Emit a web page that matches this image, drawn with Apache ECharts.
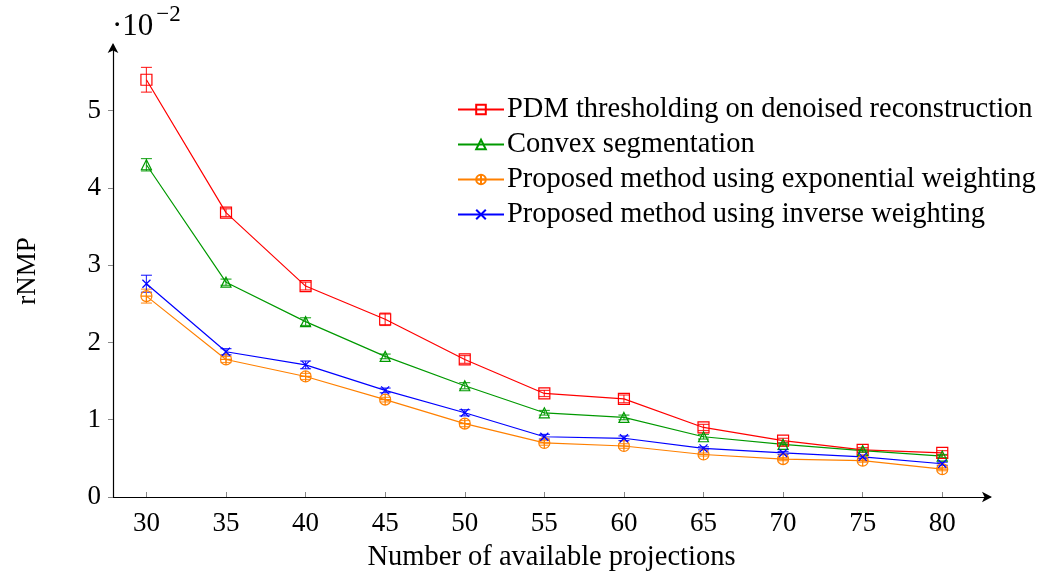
<!DOCTYPE html>
<html>
<head>
<meta charset="utf-8">
<script src="https://cdn.jsdelivr.net/npm/echarts@6/dist/echarts.min.js"></script>
<style>
  html, body { margin: 0; padding: 0; background: #fff; }
  #chart { width: 1054px; height: 577px; }
</style>
</head>
<body>
<div id="chart"></div>
<script>
// projections (x values)
var projections = [30, 35, 40, 45, 50, 55, 60, 65, 70, 75, 80];
var xTicks = [30, 35, 40, 45, 50, 55, 60, 65, 70, 75, 80];
var yTicks = [0, 1, 2, 3, 4, 5];

// rNMP values (x 10^-2)
var pdmVals    = [5.40, 3.68, 2.73, 2.30, 1.78, 1.34, 1.27, 0.90, 0.73, 0.61, 0.57];
var convexVals = [4.30, 2.78, 2.27, 1.82, 1.44, 1.09, 1.03, 0.78, 0.68, 0.60, 0.53];
var expVals    = [2.60, 1.78, 1.56, 1.26, 0.95, 0.70, 0.66, 0.55, 0.49, 0.47, 0.36];
var invVals    = [2.76, 1.88, 1.71, 1.38, 1.09, 0.78, 0.76, 0.63, 0.57, 0.52, 0.43];

// error bar half widths
var pdmErr    = [0.16, 0.05, 0.05, 0.08, 0.05, 0.04, 0.05, 0.04, 0.03, 0.03, 0.03];
var convexErr = [0.08, 0.04, 0.05, 0.03, 0.04, 0.03, 0.03, 0.03, 0.02, 0.02, 0.02];
var expErr    = [0.09, 0.04, 0.04, 0.03, 0.04, 0.03, 0.03, 0.02, 0.02, 0.02, 0.02];
var invErr    = [0.11, 0.04, 0.05, 0.03, 0.04, 0.03, 0.03, 0.02, 0.02, 0.02, 0.02];

var names = [
  'PDM thresholding on denoised reconstruction',
  'Convex segmentation',
  'Proposed method using exponential weighting',
  'Proposed method using inverse weighting'
];
var colors = ['#ff0000', '#009900', '#ff8000', '#0000ff'];

var FONT = '"Liberation Serif", "DejaVu Serif", serif';
var oplus = 'path://M0,5A5,5 0 1,1 10,5A5,5 0 1,1 0,5ZM5,0L5,10M0,5L10,5';
var cross = 'path://M0,0L10,10M10,0L0,10';
var symbols = ['rect', 'triangle', oplus, cross];
var sizes = [11, 10, 11, 8];

var vals = [pdmVals, convexVals, expVals, invVals];
var errs = [pdmErr, convexErr, expErr, invErr];

function pairs(v) { return projections.map(function (x, i) { return [x, v[i]]; }); }
function errData(v, e) { return projections.map(function (x, i) { return [x, v[i] - e[i], v[i] + e[i]]; }); }

var series = [];
for (var k = 0; k < 4; k++) {
  series.push({
    name: names[k],
    type: 'line',
    data: pairs(vals[k]),
    symbol: symbols[k],
    symbolSize: sizes[k],
    showAllSymbol: true,
    lineStyle: { color: colors[k], width: 1.2 },
    itemStyle: { color: 'rgba(255,255,255,0)', borderColor: colors[k], borderWidth: 1.2 },
    z: 3
  });
  (function (c) {
    series.push({
      type: 'custom',
      data: errData(vals[k], errs[k]),
      z: 2,
      renderItem: function (params, api) {
        var lo = api.coord([api.value(0), api.value(1)]);
        var hi = api.coord([api.value(0), api.value(2)]);
        var w = 5.5;
        var st = { stroke: c, lineWidth: 1.2, opacity: 0.8 };
        return {
          type: 'group',
          children: [
            { type: 'line', shape: { x1: lo[0], y1: lo[1], x2: hi[0], y2: hi[1] }, style: st },
            { type: 'line', shape: { x1: lo[0] - w, y1: lo[1], x2: lo[0] + w, y2: lo[1] }, style: st },
            { type: 'line', shape: { x1: hi[0] - w, y1: hi[1], x2: hi[0] + w, y2: hi[1] }, style: st }
          ]
        };
      }
    });
  })(colors[k]);
}

var chart = echarts.init(document.getElementById('chart'), null, { renderer: 'canvas' });
chart.setOption({
  animation: false,
  backgroundColor: '#fff',
  grid: { left: 113, right: 64, top: 45, bottom: 80, containLabel: false },
  legend: {
    data: names,
    orient: 'vertical',
    left: 452,
    top: 90,
    itemWidth: 46,
    itemHeight: 12,
    itemGap: 6,
    textStyle: { fontFamily: FONT, fontSize: 28.5, color: '#000', padding: [0, 0, 0, -2] }
  },
  xAxis: {
    type: 'value',
    min: 27.9,
    max: 83,
    name: 'Number of available projections',
    nameLocation: 'middle',
    nameGap: 46,
    nameTextStyle: { fontFamily: FONT, fontSize: 28.5, color: '#000' },
    splitLine: { show: false },
    axisLine: { lineStyle: { color: '#000', width: 1.2 }, symbol: ['none', 'arrow'], symbolSize: [8, 10], symbolOffset: [0, 2] },
    axisTick: { show: true, inside: true, length: 5, lineStyle: { color: '#888' }, customValues: xTicks },
    axisLabel: { fontFamily: FONT, fontSize: 27, color: '#000', margin: 13, customValues: xTicks }
  },
  yAxis: {
    type: 'value',
    min: 0,
    max: 5.85,
    name: 'rNMP',
    nameLocation: 'middle',
    nameGap: 72,
    nameRotate: 90,
    nameTextStyle: { fontFamily: FONT, fontSize: 27, color: '#000' },
    splitLine: { show: false },
    axisLine: { show: true, lineStyle: { color: '#000', width: 1.2 }, symbol: ['none', 'arrow'], symbolSize: [8, 10], symbolOffset: [0, 2] },
    axisTick: { show: true, length: 5, lineStyle: { color: '#888' }, customValues: yTicks },
    axisLabel: { fontFamily: FONT, fontSize: 27, color: '#000', margin: 12, customValues: yTicks }
  },
  graphic: [{
    type: 'text',
    left: 112,
    top: 3,
    style: {
      text: '{a|·10}{b|−2}',
      rich: {
        a: { fontFamily: FONT, fontSize: 31, fill: '#000', padding: [12, 0, 0, 0] },
        b: { fontFamily: FONT, fontSize: 23, fill: '#000', padding: [0, 0, 12, 3] }
      }
    }
  }],
  series: series
});
</script>
</body>
</html>
